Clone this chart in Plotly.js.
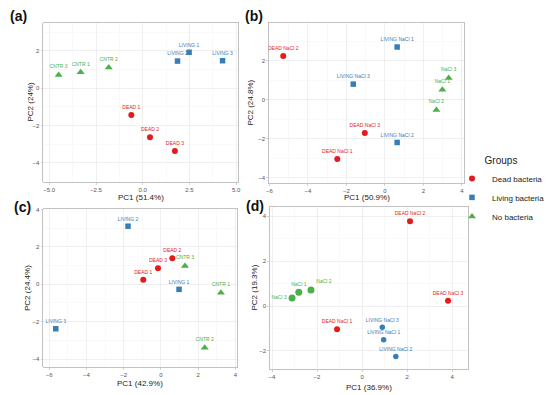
<!DOCTYPE html>
<html>
<head>
<meta charset="utf-8">
<script src="https://cdn.plot.ly/plotly-3.0.1.min.js"></script>
<style>html,body{margin:0;padding:0;background:#fff;}#chart{width:550px;height:395px;}</style>
</head>
<body>
<div id="chart"></div>
<script>
// ---------- data ----------
const groupNames = ["Dead bacteria", "Living bacteria", "No bacteria"];
const panelLetters = ["(a)", "(b)", "(c)", "(d)"];
const xTitles = ["PC1 (51.4%)", "PC1 (50.9%)", "PC1 (42.9%)", "PC1 (36.9%)"];
const yTitles = ["PC2 (24%)", "PC2 (24.8%)", "PC2 (24.4%)", "PC2 (19.3%)"];

// panel (a)
const aDeadX = [-0.61, 0.39, 1.72];
const aDeadY = [-1.43, -2.62, -3.36];
const aDeadLab = ["DEAD 1", "DEAD 2", "DEAD 3"];
const aLivX = [2.48, 1.86, 4.27];
const aLivY = [1.93, 1.46, 1.48];
const aLivLab = ["LIVING 1", "LIVING 2", "LIVING 3"];
const aNoX = [-4.50, -3.32, -1.82];
const aNoY = [0.71, 0.86, 1.12];
const aNoLab = ["CNTR 3", "CNTR 1", "CNTR 2"];

// panel (b)
const bDeadX = [-2.47, -5.28, -1.04];
const bDeadY = [-3.04, 2.26, -1.71];
const bDeadLab = ["DEAD NaCl 1", "DEAD NaCl 2", "DEAD NaCl 3"];
const bLivX = [0.64, 0.64, -1.64];
const bLivY = [2.72, -2.19, 0.81];
const bLivLab = ["LIVING NaCl 1", "LIVING NaCl 2", "LIVING NaCl 3"];
const bNoX = [2.99, 2.68, 3.32];
const bNoY = [0.52, -0.52, 1.12];
const bNoLab = ["NaCl 1", "NaCl 2", "NaCl 3"];

// panel (c)
const cDeadX = [-0.95, 0.61, -0.16];
const cDeadY = [0.25, 1.39, 0.86];
const cDeadLab = ["DEAD 1", "DEAD 2", "DEAD 3"];
const cLivX = [0.97, -1.77, -5.65];
const cLivY = [-0.27, 3.11, -2.38];
const cLivLab = ["LIVING 1", "LIVING 2", "LIVING 3"];
const cNoX = [3.22, 2.35, 1.29];
const cNoY = [-0.45, -3.39, 0.98];
const cNoLab = ["CNTR 1", "CNTR 2", "CNTR 3"];

// panel (d)
const dDeadX = [-1.11, 2.13, 3.82];
const dDeadY = [-1.04, 3.78, 0.24];
const dDeadLab = ["DEAD NaCl 1", "DEAD NaCl 2", "DEAD NaCl 3"];
const dLivX = [0.96, 1.50, 0.90];
const dLivY = [-1.50, -2.25, -0.95];
const dLivLab = ["LIVING NaCl 1", "LIVING NaCl 2", "LIVING NaCl 3"];
const dNoX = [-2.81, -2.27, -3.11];
const dNoY = [0.61, 0.71, 0.36];
const dNoLab = ["NaCl 1", "NaCl 2", "NaCl 3"];

// ---------- styling ----------
const colors = ["#E41A1C", "#377EB8", "#4DAF4A"];
const symbolsStd = ["circle", "square", "triangle-up"];
const symbolsD = ["circle", "circle", "circle"];
const sizes = [6, 5.5, 7];
const FONT = "Liberation Sans, Arial, Helvetica, sans-serif";
const TC = "top center";

const panels = [
  {xs:[aDeadX,aLivX,aNoX], ys:[aDeadY,aLivY,aNoY], labs:[aDeadLab,aLivLab,aNoLab], sym:symbolsStd, pos:[TC,TC,TC]},
  {xs:[bDeadX,bLivX,bNoX], ys:[bDeadY,bLivY,bNoY], labs:[bDeadLab,bLivLab,bNoLab], sym:symbolsStd, pos:[TC,TC,TC]},
  {xs:[cDeadX,cLivX,cNoX], ys:[cDeadY,cLivY,cNoY], labs:[cDeadLab,cLivLab,cNoLab], sym:symbolsStd, pos:[TC,TC,TC]},
  {xs:[dDeadX,dLivX,dNoX], ys:[dDeadY,dLivY,dNoY], labs:[dDeadLab,dLivLab,dNoLab], sym:symbolsD,
   pos:[TC,TC,[TC, "top right", "middle left"]]}
];

const W = 550, H = 395;
// panel boxes in px: [left, right, top, bottom]
const boxes = [
  [43.3, 237.7, 23, 182],
  [269, 464.3, 22.5, 182.7],
  [43.3, 237.3, 209, 366.7],
  [270, 468.3, 206.7, 369]
];
const xRanges = [[-5.32, 5.08], [-6.02, 4.13], [-6.32, 4.10], [-4.09, 4.72]];
const yRanges = [[-5.02, 3.50], [-4.26, 3.98], [-4.41, 4.03], [-2.81, 4.43]];
const xDt = [2.5, 2, 2, 2];
const yDt = [2, 2, 2, 2];
const xFmt = [".1f", "", "", ""];
// axis-title and panel-letter anchor points in px
const xTitlePos = [[140.5, 197], [366.7, 197.5], [140.3, 383.8], [369, 387]];
const yTitlePos = [[30, 102.5], [251, 102.6], [27, 288], [253.5, 288]];
const letterPos = [[18, 16], [254, 16], [22, 207], [255, 206]];

const traces = [];
panels.forEach((p, i) => {
  const sfx = i === 0 ? "" : String(i + 1);
  for (let g = 0; g < 3; g++) {
    traces.push({
      type: "scatter",
      mode: "markers+text",
      x: p.xs[g], y: p.ys[g], text: p.labs[g],
      name: groupNames[g],
      legendgroup: groupNames[g],
      showlegend: i === 0,
      xaxis: "x" + sfx, yaxis: "y" + sfx,
      textposition: p.pos[g],
      textfont: {family: FONT, size: 5, color: colors[g]},
      marker: {color: colors[g], symbol: p.sym[g], size: sizes[g], line: {width: 0}},
      cliponaxis: false,
      hoverinfo: "skip"
    });
  }
});

const layout = {
  width: W, height: H,
  margin: {l: 0, r: 0, t: 0, b: 0},
  paper_bgcolor: "#ffffff", plot_bgcolor: "#ffffff",
  font: {family: FONT, color: "#333333"},
  showlegend: true,
  legend: {
    x: 1, xanchor: "right", y: 0.618, yanchor: "top",
    title: {text: "Groups", side: "top center", font: {size: 10, color: "#222222", family: FONT}},
    font: {size: 8, color: "#222222", family: FONT},
    bgcolor: "rgba(0,0,0,0)", borderwidth: 0, itemwidth: 30, tracegroupgap: 0
  },
  annotations: []
};

boxes.forEach((b, i) => {
  const sfx = i === 0 ? "" : String(i + 1);
  const common = {
    showgrid: true, gridcolor: "#e6e6e6", gridwidth: 0.6,
    zeroline: false, showline: true, mirror: true, linecolor: "#b3b3b3", linewidth: 0.8,
    ticks: "outside", ticklen: 2, tickwidth: 0.6, tickcolor: "#b3b3b3",
    tickfont: {size: 6, color: "#555555", family: FONT},
    automargin: false, fixedrange: true
  };
  layout["xaxis" + sfx] = Object.assign({}, common, {
    domain: [b[0] / W, b[1] / W], range: xRanges[i], anchor: "y" + sfx,
    dtick: xDt[i], tick0: 0, tickformat: xFmt[i],
    minor: {dtick: xDt[i] / 2, tick0: 0, showgrid: true, gridcolor: "#f3f3f3", gridwidth: 0.5, ticks: ""}
  });
  layout["yaxis" + sfx] = Object.assign({}, common, {
    domain: [1 - b[3] / H, 1 - b[2] / H], range: yRanges[i], anchor: "x" + sfx,
    dtick: yDt[i], tick0: 0,
    minor: {dtick: yDt[i] / 2, tick0: 0, showgrid: true, gridcolor: "#f3f3f3", gridwidth: 0.5, ticks: ""}
  });
  // axis titles
  layout.annotations.push({
    text: xTitles[i], xref: "paper", yref: "paper",
    x: xTitlePos[i][0] / W, y: 1 - xTitlePos[i][1] / H,
    xanchor: "center", yanchor: "middle", showarrow: false,
    font: {size: 8, color: "#222222", family: FONT}
  });
  layout.annotations.push({
    text: yTitles[i], xref: "paper", yref: "paper", textangle: -90,
    x: yTitlePos[i][0] / W, y: 1 - yTitlePos[i][1] / H,
    xanchor: "center", yanchor: "middle", showarrow: false,
    font: {size: 8, color: "#222222", family: FONT}
  });
});

panelLetters.forEach((t, i) => {
  layout.annotations.push({
    text: "<b>" + t + "</b>", xref: "paper", yref: "paper",
    x: letterPos[i][0] / W, y: 1 - letterPos[i][1] / H,
    xanchor: "center", yanchor: "middle", showarrow: false,
    font: {size: 14, color: "#111111", family: FONT}
  });
});

Plotly.newPlot("chart", traces, layout, {displayModeBar: false, staticPlot: true});
</script>
</body>
</html>
